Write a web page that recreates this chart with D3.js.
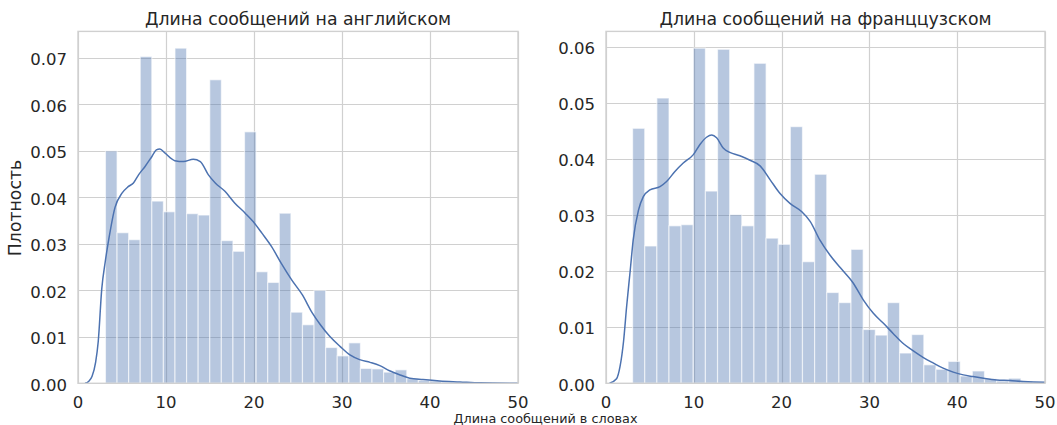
<!DOCTYPE html>
<html>
<head>
<meta charset="utf-8">
<script src="https://cdn.jsdelivr.net/npm/d3@7"></script>
<style>
  html, body { margin: 0; padding: 0; background: #fff; }
  svg { display: block; font-family: "DejaVu Sans", sans-serif; }
</style>
</head>
<body>
<svg id="chart" width="1057" height="425"></svg>
<script>
// Histogram bin layout (message length in words)
const enBinStart = 3.12;
const enBinWidth = 1.317;
const frBinStart = 3.03;
const frBinWidth = 1.382;

// Density of each histogram bin
const enDensity = [0.0500, 0.0324, 0.0309, 0.0703, 0.0392, 0.0369, 0.0721, 0.0365, 0.0362, 0.0653,
                   0.0307, 0.0284, 0.0541, 0.0240, 0.0217, 0.0366, 0.0153, 0.0126, 0.0200, 0.0077,
                   0.0059, 0.0087, 0.0032, 0.0031, 0.0024, 0.0029, 0.0010, 0.0006, 0.0005, 0.0003,
                   0.0002];
const frDensity = [0.0455, 0.0245, 0.0509, 0.0281, 0.0283, 0.0598, 0.0343, 0.0596, 0.0301, 0.0281,
                   0.0571, 0.0259, 0.0248, 0.0458, 0.0217, 0.0373, 0.0162, 0.0144, 0.0239, 0.0096,
                   0.0086, 0.0144, 0.0054, 0.0087, 0.0033, 0.0025, 0.0039, 0.0013, 0.0022, 0.0008,
                   0.0004, 0.0009, 0.0004, 0.0003];

// Kernel density estimate, sampled along the x axis
const enKdeX = [0.8, 1.2, 1.6, 2.0, 2.3, 2.7, 3.1, 3.5, 4.2, 5.0, 5.7, 6.3, 6.9, 7.6, 8.4, 8.9, 9.3, 9.9,
                11.0, 12.0, 13.1, 13.9, 14.8, 15.6, 16.7, 17.8, 19.0, 19.9, 20.9, 22.0, 23.1, 24.3,
                25.5, 26.6, 27.5, 28.6, 29.8, 30.9, 32.0, 33.2, 34.3, 35.4, 36.6, 37.7, 39.2, 41.1,
                43.4, 45.7, 50.0];
const enKdeY = [0.0000, 0.0004, 0.0015, 0.0045, 0.0090, 0.0203, 0.0262, 0.0310, 0.0378, 0.0409,
                0.0423, 0.0431, 0.0449, 0.0466, 0.0488, 0.0502, 0.0504, 0.0495, 0.0479, 0.0477,
                0.0482, 0.0477, 0.0449, 0.0431, 0.0413, 0.0388, 0.0366, 0.0348, 0.0323, 0.0294,
                0.0258, 0.0222, 0.0190, 0.0152, 0.0127, 0.0101, 0.0079, 0.0061, 0.0051, 0.0045,
                0.0038, 0.0027, 0.0018, 0.0011, 0.0008, 0.0005, 0.0003, 0.0001, 0.0000];
const frKdeX = [0.4, 1.2, 1.6, 2.0, 2.35, 2.75, 3.1, 3.7, 4.25, 5.0, 6.15, 6.9, 7.85, 8.8, 9.95, 10.7,
                11.45, 12.05, 12.6, 13.35, 14.1, 15.25, 16.4, 17.55, 18.7, 19.8, 20.95, 22.3, 23.25,
                24.35, 25.5, 26.7, 28.15, 29.3, 30.45, 31.6, 32.7, 33.85, 35.0, 36.15, 37.3, 38.4,
                39.55, 40.7, 41.8, 43.0, 44.5, 46.0, 47.5, 49.8, 50.0];
const frKdeY = [0.0000, 0.0008, 0.0030, 0.0075, 0.0137, 0.0200, 0.0256, 0.0309, 0.0333, 0.0345,
                0.0351, 0.0360, 0.0378, 0.0393, 0.0408, 0.0426, 0.0439, 0.0443, 0.0438, 0.0420,
                0.0412, 0.0406, 0.0398, 0.0388, 0.0363, 0.0339, 0.0321, 0.0306, 0.0289, 0.0256,
                0.0229, 0.0206, 0.0179, 0.0149, 0.0125, 0.0107, 0.0089, 0.0071, 0.0058, 0.0046,
                0.0036, 0.0027, 0.0020, 0.0015, 0.0012, 0.0009, 0.0006, 0.0005, 0.0003, 0.0002,
                0.0002];

const xTicks = [0, 10, 20, 30, 40, 50];
const enYTicks = [0, 0.01, 0.02, 0.03, 0.04, 0.05, 0.06, 0.07];
const frYTicks = [0, 0.01, 0.02, 0.03, 0.04, 0.05, 0.06];

const enTitle = "Длина сообщений на английском";
const frTitle = "Длина сообщений на франццузском";
const yLabel = "Плотность";
const xLabel = "Длина сообщений в словах";

const svg = d3.select("#chart");
const ink = "#262626";
const gridColor = "#d0d0d0";
const blue = "#4c72b0";
const tickSize = 16.5;

function panel(opts) {
  const { left, right, top, bottom, id } = opts;
  const g = svg.append("g");

  const x = d3.scaleLinear().domain([0, 50]).range([left, right]);
  const yMax = d3.max(opts.density) * 1.05;
  const y = d3.scaleLinear().domain([0, yMax]).range([bottom, top]);

  g.append("clipPath").attr("id", id)
    .append("rect").attr("x", left).attr("y", top)
    .attr("width", right - left).attr("height", bottom - top);

  // grid
  const grid = g.append("g");
  grid.selectAll("line.gx").data(xTicks).join("line")
    .attr("x1", d => Math.round(x(d)) + 0.5).attr("x2", d => Math.round(x(d)) + 0.5)
    .attr("y1", top).attr("y2", bottom)
    .attr("stroke", gridColor).attr("stroke-width", 1.2);
  grid.selectAll("line.gy").data(opts.yTicks).join("line")
    .attr("y1", d => Math.round(y(d)) + 0.5).attr("y2", d => Math.round(y(d)) + 0.5)
    .attr("x1", left).attr("x2", right)
    .attr("stroke", gridColor).attr("stroke-width", 1.2);

  // histogram bars
  const bins = opts.density.map((v, i) => ({
    x0: opts.binStart + i * opts.binWidth,
    x1: opts.binStart + (i + 1) * opts.binWidth,
    v
  }));
  g.append("g").attr("clip-path", `url(#${id})`)
    .selectAll("rect").data(bins).join("rect")
    .attr("x", d => x(d.x0))
    .attr("width", d => x(d.x1) - x(d.x0))
    .attr("y", d => y(d.v))
    .attr("height", d => y(0) - y(d.v))
    .attr("fill", blue).attr("fill-opacity", 0.4)
    .attr("stroke", "#ffffff").attr("stroke-opacity", 0.6).attr("stroke-width", 1.2);

  // density curve
  const pts = opts.kdeX.map((d, i) => [d, opts.kdeY[i]]);
  g.append("path").datum(pts)
    .attr("clip-path", `url(#${id})`)
    .attr("d", d3.line().x(d => x(d[0])).y(d => y(d[1])).curve(d3.curveMonotoneX))
    .attr("fill", "none").attr("stroke", blue).attr("stroke-width", 1.5);

  // frame
  g.append("rect").attr("x", left).attr("y", top)
    .attr("width", right - left).attr("height", bottom - top)
    .attr("fill", "none").attr("stroke", gridColor).attr("stroke-width", 1.4);

  // x tick labels
  g.append("g").selectAll("text").data(xTicks).join("text")
    .attr("x", d => x(d)).attr("y", bottom + 24.4)
    .attr("text-anchor", "middle").attr("fill", ink).attr("font-size", tickSize)
    .text(d => d);

  // y tick labels
  g.append("g").selectAll("text").data(opts.yTicks).join("text")
    .attr("x", left - 11).attr("y", d => y(d) + 7.2)
    .attr("text-anchor", "end").attr("fill", ink).attr("font-size", tickSize)
    .text(d => d3.format(".2f")(d));

  // title
  g.append("text")
    .attr("x", (left + right) / 2).attr("y", 25.4)
    .attr("text-anchor", "middle").attr("fill", ink).attr("font-size", 17.3)
    .text(opts.title);

  return { x, y };
}

panel({ id: "clipEn", left: 78, right: 518, top: 31.4, bottom: 383.3,
        density: enDensity, binStart: enBinStart, binWidth: enBinWidth,
        kdeX: enKdeX, kdeY: enKdeY, yTicks: enYTicks, title: enTitle });
panel({ id: "clipFr", left: 606, right: 1045, top: 31.4, bottom: 383.3,
        density: frDensity, binStart: frBinStart, binWidth: frBinWidth,
        kdeX: frKdeX, kdeY: frKdeY, yTicks: frYTicks, title: frTitle });

// shared axis labels
svg.append("text")
  .attr("transform", "translate(21,208) rotate(-90)")
  .attr("text-anchor", "middle").attr("fill", ink).attr("font-size", 17.3)
  .text(yLabel);

svg.append("text")
  .attr("x", 545.5).attr("y", 423)
  .attr("text-anchor", "middle").attr("fill", ink).attr("font-size", 12.8)
  .text(xLabel);
</script>
</body>
</html>
